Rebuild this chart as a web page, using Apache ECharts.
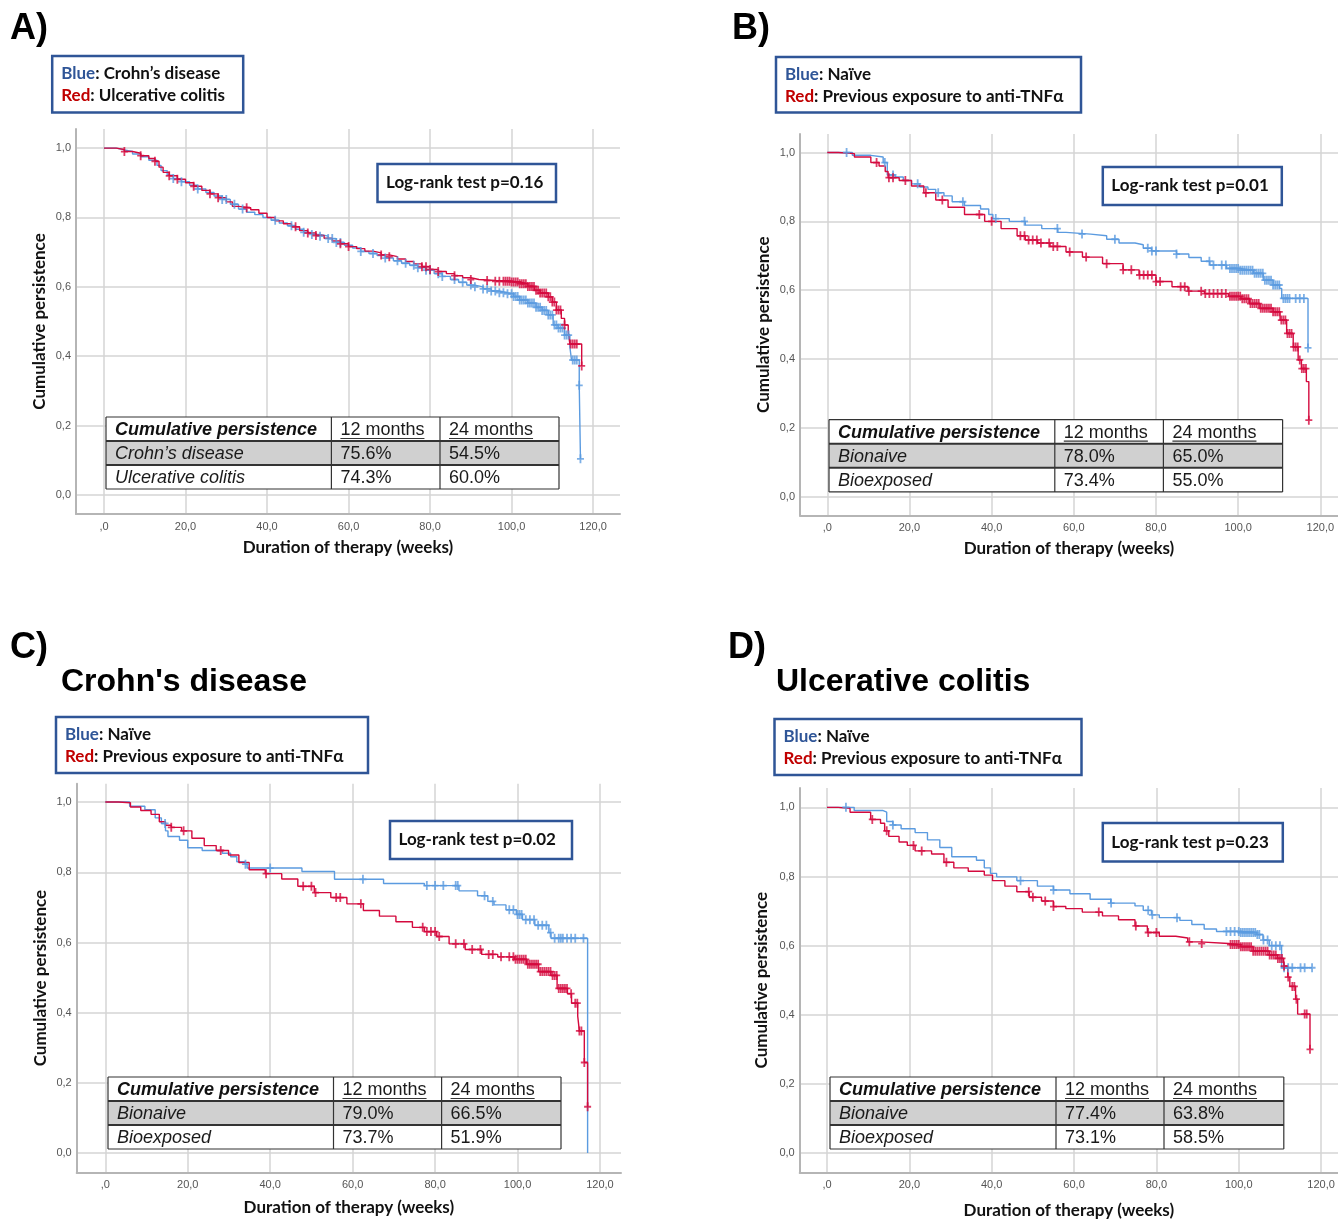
<!DOCTYPE html>
<html>
<head>
<meta charset="utf-8">
<script src="https://cdn.jsdelivr.net/npm/echarts@6/dist/echarts.min.js"></script>
<style>
  html, body { margin: 0; padding: 0; background: #fff; }
  #chart { width: 1338px; height: 1221px; }
</style>
</head>
<body>
<div id="chart"></div>
<script>
// ── axis ticks ──
var X_TICKS = [0, 20, 40, 60, 80, 100, 120];
var Y_TICKS = [0, 0.2, 0.4, 0.6, 0.8, 1.0];

// ── A) Crohn's disease vs ulcerative colitis: [week, persistence] step points ──
var A_BLUE = [[0,1],[3,0.995],[5,0.99],[7,0.983],[9,0.975],[11,0.965],[13,0.95],[14,0.935],[15.5,0.922],[17,0.912],[19,0.903],[21,0.893],[23,0.882],[25,0.872],[27,0.862],[29,0.852],[31,0.838],[33,0.824],[35,0.815],[37,0.808],[39,0.8],[41,0.792],[43,0.784],[45,0.776],[47,0.766],[49,0.757],[51,0.751],[53,0.746],[55,0.739],[57,0.728],[59,0.72],[61,0.712],[63,0.702],[65,0.696],[67,0.69],[69,0.683],[71,0.675],[73,0.668],[75,0.662],[77,0.655],[79,0.648],[81,0.638],[83,0.63],[85,0.621],[87,0.613],[89,0.605],[91,0.6],[93,0.594],[95,0.588],[97,0.583],[99,0.58],[100.5,0.572],[102,0.562],[104,0.553],[106,0.541],[107.5,0.532],[109,0.519],[110.2,0.49],[111.4,0.481],[113,0.461],[114.3,0.427],[114.7,0.389],[116.6,0.316],[116.9,0.104]];
var A_RED = [[0,1],[3,0.996],[5,0.99],[7,0.985],[9,0.978],[11,0.97],[12.5,0.962],[13.5,0.945],[14.5,0.93],[16,0.92],[18,0.91],[20,0.9],[22,0.89],[24,0.878],[26,0.868],[28,0.857],[30,0.845],[31.5,0.832],[33,0.828],[36,0.822],[38,0.812],[40,0.8],[42,0.79],[44,0.782],[46,0.773],[48,0.762],[50,0.755],[52,0.748],[54,0.74],[56,0.732],[58,0.724],[60,0.716],[62,0.71],[64,0.703],[66,0.698],[68,0.692],[70,0.687],[72,0.68],[74,0.673],[76,0.666],[78,0.658],[80,0.65],[82,0.644],[84,0.638],[86,0.632],[88,0.626],[90,0.621],[92,0.618],[96,0.616],[100,0.614],[102,0.609],[104,0.601],[105.6,0.59],[107,0.582],[109,0.571],[110,0.556],[111,0.533],[112.2,0.509],[113,0.49],[113.9,0.47],[114.3,0.435],[117.2,0.372]];
var A_BLUE_CENS = [17,19,23,29,30,32,34,42,46,49,51,53,55,56,57,58,63,66,69,72,74,76,77,79,80,82,83,86,88,90,91,93,94,95,96,97,98,99,100,100.5,101,101.5,102,102.5,103,103.5,104,104.5,105,105.5,106,106.5,107,107.5,108,108.5,109,109.5,110,110.5,111,111.5,112,112.5,113,113.5,114,115,115.5,116,116.6,116.9];
var A_RED_CENS = [5,9,12.5,16,18,22,26,28,35,47,50,52,58,60,68,70,78,79,80,82,86,90,94,96,97,98,98.5,99,99.5,100,100.5,101,101.5,102,102.5,103,103.5,104,104.5,105,105.5,106,106.5,107,107.5,108,108.5,109,109.5,110,110.5,111,111.5,112,113,114.5,115,115.5,116,117.2];

// ── B) naive vs previous anti-TNF ──
var B_BLUE = [[0,1],[6.1,0.992],[10.6,0.987],[13.6,0.971],[14.6,0.935],[16.5,0.929],[18.5,0.919],[20.5,0.909],[22.5,0.9],[24.5,0.893],[26.4,0.883],[28.4,0.874],[30.4,0.857],[33.4,0.846],[37.3,0.836],[39.3,0.82],[40.3,0.808],[44.3,0.8],[48.2,0.789],[52.2,0.779],[56.1,0.768],[58.1,0.763],[64.1,0.758],[68,0.748],[71,0.737],[74.9,0.732],[76.9,0.722],[78.9,0.714],[85,0.705],[88,0.695],[91,0.684],[93.1,0.673],[97.2,0.663],[100.4,0.658],[103.7,0.649],[106.1,0.629],[108.5,0.615],[110.1,0.605],[110.6,0.576],[117,0.432]];
var B_RED = [[0,1],[2.7,0.997],[6.6,0.987],[10.6,0.971],[12.6,0.961],[14.1,0.945],[14.8,0.927],[17.5,0.919],[20.5,0.903],[23.5,0.883],[26.4,0.862],[29.4,0.841],[33.4,0.82],[38.3,0.8],[42.3,0.779],[46.2,0.758],[48.2,0.746],[51.2,0.737],[54.2,0.727],[58.1,0.711],[62.1,0.696],[67,0.677],[72,0.659],[75.9,0.644],[80,0.625],[83.9,0.61],[87.8,0.597],[91.8,0.59],[97.7,0.582],[100.7,0.575],[102.8,0.561],[105.3,0.547],[108.5,0.537],[110.2,0.513],[111.8,0.474],[113.4,0.435],[114.6,0.397],[115.4,0.372],[116.6,0.334],[117.2,0.222]];
var B_BLUE_CENS = [4.7,14,16,22,27,33,41,48,56,62,70,78,79,80,85,93,94,96,97,98,98.5,99,99.5,100,100.5,101,101.5,102,102.5,103,103.5,104,104.5,105,105.5,106,106.5,107,107.5,108,108.5,109,109.5,110,111,111.5,112,112.5,114,115,116,117];
var B_RED_CENS = [12,15,16,19,24,28,37,40,47,48,49,50,51,52,54,55,56,59,63,68,72,74,76,77,78,79,80,81,86,87,88,91,92,93,94,95,96,97,98,98.5,99,99.5,100,100.5,101,101.5,102,102.5,103,103.5,104,104.5,105,105.5,106,106.5,107,107.5,108,108.5,109,109.5,110,110.5,111,111.5,112,112.5,113,113.5,114,114.5,115,115.5,116,116.5,117.2];

// ── C) Crohn's disease ──
var C_BLUE = [[0,1],[5.9,0.988],[9.6,0.978],[12.1,0.955],[13.6,0.939],[14.6,0.918],[15.2,0.902],[18,0.891],[20,0.87],[23.5,0.862],[28.4,0.854],[30.4,0.844],[31.9,0.83],[33.9,0.823],[34.4,0.812],[47.7,0.802],[55.6,0.78],[67.5,0.768],[77.4,0.762],[85.8,0.747],[90.3,0.733],[92.8,0.717],[94.3,0.707],[97.2,0.693],[99.7,0.68],[101.2,0.665],[104.2,0.649],[107.6,0.628],[108.1,0.612],[117,0]];
var C_RED = [[0,1],[3.2,0.998],[6.1,0.986],[8.6,0.976],[11.1,0.965],[13.1,0.944],[14.6,0.934],[16,0.928],[18.5,0.918],[21,0.897],[24,0.876],[26.9,0.862],[29.9,0.849],[32.4,0.828],[34.9,0.807],[38.8,0.796],[42.8,0.781],[46.7,0.76],[50.7,0.742],[54.7,0.728],[58.6,0.71],[62.6,0.691],[66.5,0.675],[70.5,0.659],[74.5,0.643],[77.4,0.631],[80.4,0.617],[83.4,0.596],[87.3,0.58],[91.3,0.566],[95.2,0.559],[99.2,0.552],[102.2,0.538],[105.1,0.517],[108.1,0.506],[109.6,0.469],[112.1,0.454],[113.1,0.427],[114.6,0.39],[115,0.348],[116.2,0.258],[117,0.132]];
var C_BLUE_CENS = [14.5,34,40,62.5,78,80,82,85,85.5,92,94,98,99,100,100.5,101,102,103,104,105,106,107,108,109,110,110.5,111,112,113,114,116];
var C_RED_CENS = [16,19,28,39,48,50,51,56,57,62,77,78,79,80,81,85,87,89,91,93,94,96,98,99,99.5,100,100.5,101,101.5,102,102.5,103,103.5,104,104.5,105,105.5,106,106.5,107,107.5,108,108.5,109,109.5,110,110.5,111,111.5,112,113,114,114.5,115,115.5,116.2,117];

// ── D) Ulcerative colitis ──
var D_BLUE = [[0,1],[6.6,0.991],[13.5,0.986],[14.5,0.959],[16,0.949],[18,0.938],[21.4,0.927],[24.4,0.906],[27.4,0.884],[30.3,0.857],[36.3,0.847],[38.2,0.825],[39.7,0.809],[41.2,0.799],[46.1,0.788],[51.1,0.772],[55,0.761],[59,0.75],[63.9,0.734],[68.9,0.723],[74.8,0.715],[76.8,0.702],[78.8,0.689],[80.7,0.681],[85.7,0.673],[88.6,0.661],[91.6,0.648],[94.6,0.641],[100.5,0.638],[104.4,0.632],[105.9,0.616],[107.4,0.6],[110.4,0.536],[117.8,0.536]];
var D_RED = [[0,1],[2.7,0.997],[5.6,0.986],[10.6,0.965],[13,0.954],[14,0.932],[15,0.916],[17.5,0.9],[19.5,0.89],[21.4,0.874],[25.4,0.865],[28.4,0.841],[30.8,0.825],[34.3,0.815],[38.2,0.804],[40.2,0.788],[43.2,0.772],[46.1,0.756],[49.1,0.74],[52.1,0.729],[55,0.713],[58,0.707],[62,0.697],[66.9,0.686],[70.8,0.675],[74.8,0.657],[77.8,0.638],[80.7,0.627],[84.7,0.622],[87.6,0.611],[90.6,0.606],[97.5,0.603],[100.5,0.597],[103.5,0.584],[107.4,0.573],[109.4,0.563],[110.9,0.541],[111.9,0.509],[112.4,0.482],[113.8,0.445],[114.3,0.402],[117.3,0.3]];
var D_BLUE_CENS = [4.6,16,47,55,69,78,79,85,97,98,99,100,100.5,101,101.5,102,102.5,103,103.5,104,104.5,105,106,107,108,109,110,111,112,113,115,116,117.8];
var D_RED_CENS = [11,14.5,21,23,29,49,50,53,55,66,75,78,80,88,91,98,98.5,99,99.5,100,100.5,101,101.5,102,102.5,103,103.5,104,104.5,105,105.5,106,106.5,107,107.5,108,108.5,109,109.5,110,110.5,111,112,113,113.5,114,116,116.5,117.3];

// ── legends / tables / p-values ──
var LEGEND_A = ['Crohn\u2019s disease', 'Ulcerative colitis'];
var LEGEND_BCD = ['Na\u00efve', 'Previous exposure to anti-TNF\u03b1'];
var ROWS_A = ['Crohn\u2019s disease', 'Ulcerative colitis'];
var ROWS_BCD = ['Bionaive', 'Bioexposed'];
var A_M12 = ['75.6%', '74.3%'], A_M24 = ['54.5%', '60.0%'];
var B_M12 = ['78.0%', '73.4%'], B_M24 = ['65.0%', '55.0%'];
var C_M12 = ['79.0%', '73.7%'], C_M24 = ['66.5%', '51.9%'];
var D_M12 = ['77.4%', '73.1%'], D_M24 = ['63.8%', '58.5%'];
var P_VALUES = ['0.16', '0.01', '0.02', '0.23'];

var BLUE = '#5b9be0', RED = '#d40a3e', BOX = '#2f5597';
var LABEL_FONT = 'Lato';
var TABLE_FONT = '"Liberation Sans", Arial, sans-serif';
var PLUS = 'path://M-0.9,-4.5H0.9V-0.9H3.5V0.9H0.9V4.5H-0.9V0.9H-3.5V-0.9H-0.9Z';

var panels = [
  { tag: ['A)', 10, 29], title: null,
    grid: { left: 76, top: 129, width: 544, height: 385 }, x: [-6.87, 126.6], y: [-0.055, 1.055],
    legendBox: [52.2, 56, 191, 56.5], logBox: [377.5, 164, 178.5, 38],
    table: { x: 106, y: 417, cols: [225.4, 108.6, 119], rh: 24 }, gx: 25, gy: 28,
    blue: A_BLUE, red: A_RED, blueCens: A_BLUE_CENS, redCens: A_RED_CENS,
    legend: LEGEND_A, rows: ROWS_A, m12: A_M12, m24: A_M24, p: P_VALUES[0] },
  { tag: ['B)', 732, 29], title: null,
    grid: { left: 800, top: 134, width: 538, height: 381.4 }, x: [-6.64, 124.3], y: [-0.055, 1.054],
    legendBox: [776, 57, 305, 55.5], logBox: [1102.8, 167, 179, 38],
    table: { x: 829, y: 419.6, cols: [225.8, 108.6, 119.2], rh: 24.1 }, gx: 25, gy: 28,
    blue: B_BLUE, red: B_RED, blueCens: B_BLUE_CENS, redCens: B_RED_CENS,
    legend: LEGEND_BCD, rows: ROWS_BCD, m12: B_M12, m24: B_M24, p: P_VALUES[1] },
  { tag: ['C)', 10, 648], title: ["Crohn's disease", 61, 682],
    grid: { left: 76.7, top: 783.8, width: 544.3, height: 388.6 }, x: [-6.94, 125.1], y: [-0.055, 1.052],
    legendBox: [56, 717, 312, 56], logBox: [390, 821, 182, 38],
    table: { x: 108, y: 1077, cols: [225.5, 108.1, 119.4], rh: 24 }, gx: 27, gy: 28,
    blue: C_BLUE, red: C_RED, blueCens: C_BLUE_CENS, redCens: C_RED_CENS,
    legend: LEGEND_BCD, rows: ROWS_BCD, m12: C_M12, m24: C_M24, p: P_VALUES[2] },
  { tag: ['D)', 728, 648], title: ['Ulcerative colitis', 776, 682],
    grid: { left: 799.7, top: 788, width: 538.3, height: 384.4 }, x: [-6.63, 124.1], y: [-0.056, 1.056],
    legendBox: [774.5, 719, 307, 56], logBox: [1102.8, 823, 180, 38.6],
    table: { x: 830, y: 1077, cols: [226, 108, 119.8], rh: 24 }, gx: 30, gy: 30,
    blue: D_BLUE, red: D_RED, blueCens: D_BLUE_CENS, redCens: D_RED_CENS,
    legend: LEGEND_BCD, rows: ROWS_BCD, m12: D_M12, m24: D_M24, p: P_VALUES[3] }
];

var measureCtx = document.createElement('canvas').getContext('2d');
function textWidth(s, font) { measureCtx.font = font; return measureCtx.measureText(s).width; }

// value of the step curve at a censoring time
function censorPoints(curve, times) {
  return times.map(function (t) {
    var s = curve[0][1];
    for (var i = 0; i < curve.length; i++) { if (curve[i][0] <= t) s = curve[i][1]; }
    return [t, s];
  });
}

function txt(x, y, s, o) {
  var style = { text: s, fill: o.fill || '#111', fontFamily: o.family || LABEL_FONT, fontSize: o.size || 17,
    fontWeight: o.weight || 'normal', fontStyle: o.italic ? 'italic' : 'normal', verticalAlign: 'middle', align: 'left' };
  return { type: 'text', x: x, y: y, z: 100, style: style };
}

function panelGraphics(p) {
  var g = [];
  g.push(txt(p.tag[1], p.tag[2], p.tag[0], { family: TABLE_FONT, size: 36, weight: 'bold', fill: '#000' }));
  if (p.title) g.push(txt(p.title[1], p.title[2], p.title[0], { family: TABLE_FONT, size: 32, weight: 'bold', fill: '#000' }));

  // colour legend box
  var L = p.legendBox;
  g.push({ type: 'rect', z: 100, shape: { x: L[0], y: L[1], width: L[2], height: L[3] },
    style: { fill: '#fff', stroke: BOX, lineWidth: 2.5 } });
  var bf = 'bold 17px ' + LABEL_FONT;
  var wb = textWidth('Blue', bf), wr = textWidth('Red', bf);
  g.push(txt(L[0] + 9, L[1] + 18, 'Blue', { weight: 'bold', fill: BOX }));
  g.push(txt(L[0] + 9 + wb, L[1] + 18, ': ' + p.legend[0], { weight: 'bold' }));
  g.push(txt(L[0] + 9, L[1] + 40, 'Red', { weight: 'bold', fill: '#c00000' }));
  g.push(txt(L[0] + 9 + wr, L[1] + 40, ': ' + p.legend[1], { weight: 'bold' }));

  // log-rank box
  var B = p.logBox;
  g.push({ type: 'rect', z: 100, shape: { x: B[0], y: B[1], width: B[2], height: B[3] },
    style: { fill: '#fff', stroke: BOX, lineWidth: 2.5 } });
  g.push(txt(B[0] + 8.5, B[1] + B[3] / 2, 'Log-rank test p=' + p.p, { weight: 'bold' }));

  // persistence table
  var t = p.table, x0 = t.x, y0 = t.y, rh = t.rh;
  var c1 = x0 + t.cols[0], c2 = c1 + t.cols[1], x3 = c2 + t.cols[2];
  g.push({ type: 'rect', z: 100, shape: { x: x0, y: y0, width: x3 - x0, height: rh * 3 }, style: { fill: '#fff' } });
  g.push({ type: 'rect', z: 100, shape: { x: x0, y: y0 + rh, width: x3 - x0, height: rh }, style: { fill: '#d0d0d0' } });
  function line(x1, y1, x2, y2, w) {
    g.push({ type: 'line', z: 101, shape: { x1: x1, y1: y1, x2: x2, y2: y2 }, style: { stroke: '#333', lineWidth: w } });
  }
  line(x0, y0, x3, y0, 1.2); line(x0, y0 + rh * 3, x3, y0 + rh * 3, 1.2);
  line(x0, y0, x0, y0 + rh * 3, 1.2); line(x3, y0, x3, y0 + rh * 3, 1.2);
  line(c1, y0, c1, y0 + rh * 3, 1.2); line(c2, y0, c2, y0 + rh * 3, 1.2);
  line(x0, y0 + rh, x3, y0 + rh, 2); line(x0, y0 + rh * 2, x3, y0 + rh * 2, 2);

  var tf = { family: TABLE_FONT, size: 18, fill: '#1a1a1a' };
  g.push(txt(x0 + 9, y0 + rh / 2 + 1, 'Cumulative persistence', { family: TABLE_FONT, size: 18, weight: 'bold', italic: true, fill: '#111' }));
  [['12 months', c1], ['24 months', c2]].forEach(function (h) {
    g.push(txt(h[1] + 9, y0 + rh / 2 + 1, h[0], tf));
    var w = textWidth(h[0], '18px ' + TABLE_FONT);
    line(h[1] + 9, y0 + rh - 2.5, h[1] + 9 + w, y0 + rh - 2.5, 1.2);
  });
  for (var r = 0; r < 2; r++) {
    var yc = y0 + rh * (r + 1.5) + 1;
    g.push(txt(x0 + 9, yc, p.rows[r], { family: TABLE_FONT, size: 18, italic: true, fill: '#1a1a1a' }));
    g.push(txt(c1 + 9, yc, p.m12[r], tf));
    g.push(txt(c2 + 9, yc, p.m24[r], tf));
  }
  return g;
}

var fmtX = function (v) { return v === 0 ? ',0' : v.toFixed(1).replace('.', ','); };
var fmtY = function (v) { return v.toFixed(1).replace('.', ','); };
var axisNameStyle = { fontFamily: LABEL_FONT, fontWeight: 'bold', fontSize: 17, color: '#111' };
var tickLabelStyle = { color: '#555', fontSize: 11, fontFamily: TABLE_FONT };

var grids = [], xAxes = [], yAxes = [], series = [], graphics = [];
panels.forEach(function (p, i) {
  grids.push(p.grid);
  xAxes.push({
    gridIndex: i, type: 'value', min: p.x[0], max: p.x[1],
    name: 'Duration of therapy (weeks)', nameLocation: 'middle', nameGap: p.gx, nameTextStyle: axisNameStyle,
    axisLine: { show: true, onZero: false, lineStyle: { color: '#b5b5b5', width: 2 } },
    axisTick: { show: false, customValues: X_TICKS },
    axisLabel: Object.assign({ customValues: X_TICKS, formatter: fmtX, margin: 7 }, tickLabelStyle),
    splitLine: { show: true, lineStyle: { color: '#d4d4d4', width: 1.5 } }
  });
  yAxes.push({
    gridIndex: i, type: 'value', min: p.y[0], max: p.y[1],
    name: 'Cumulative persistence', nameLocation: 'middle', nameGap: p.gy, nameTextStyle: axisNameStyle,
    axisLine: { show: true, onZero: false, lineStyle: { color: '#b5b5b5', width: 2 } },
    axisTick: { show: false, customValues: Y_TICKS },
    axisLabel: Object.assign({ customValues: Y_TICKS, formatter: fmtY, margin: 5 }, tickLabelStyle),
    splitLine: { show: true, lineStyle: { color: '#d4d4d4', width: 1.5 } }
  });
  [['blue', BLUE], ['red', RED]].forEach(function (c) {
    var curve = p[c[0]];
    series.push({ type: 'line', xAxisIndex: i, yAxisIndex: i, data: curve, step: 'end', showSymbol: false,
      silent: true, lineStyle: { color: c[1], width: 1.4 }, z: 3 });
    series.push({ type: 'scatter', xAxisIndex: i, yAxisIndex: i, data: censorPoints(curve, p[c[0] + 'Cens']),
      symbol: PLUS, symbolSize: [7, 9], silent: true, itemStyle: { color: c[1] }, z: 4 });
  });
  graphics = graphics.concat(panelGraphics(p));
});

var chart = echarts.init(document.getElementById('chart'), null, { renderer: 'canvas' });
chart.setOption({
  animation: false,
  backgroundColor: '#fff',
  grid: grids,
  xAxis: xAxes,
  yAxis: yAxes,
  series: series,
  graphic: graphics
});
</script>
</body>
</html>
